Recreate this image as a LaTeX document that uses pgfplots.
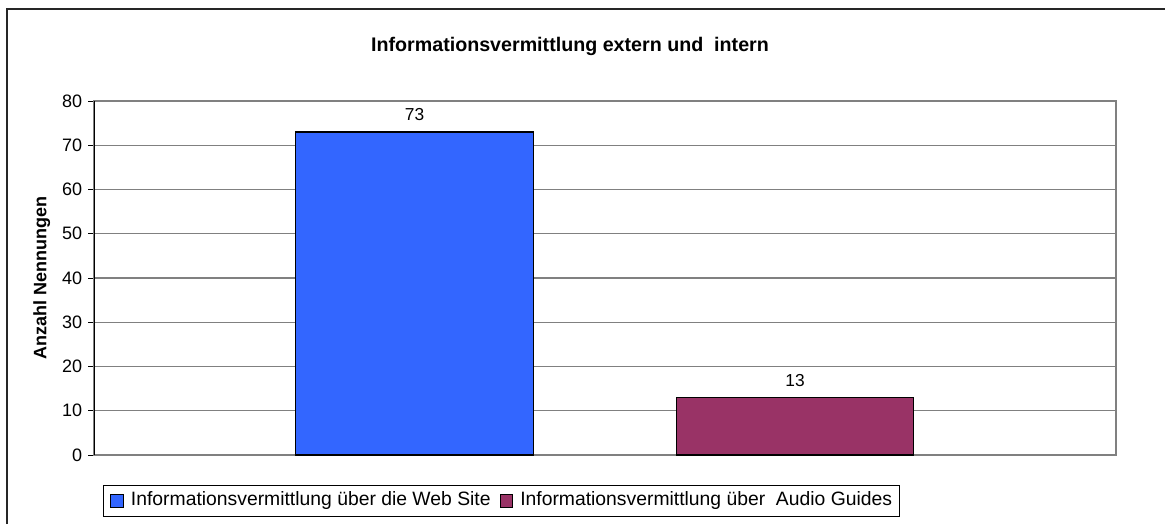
\documentclass[border=0pt]{standalone}
\usepackage{pgfplots}
\pgfplotsset{compat=1.18}
\usepackage{fontspec}
\setmainfont{Liberation Sans}

\definecolor{webblue}{HTML}{3366FF}
\definecolor{audiopurple}{HTML}{993366}
\definecolor{gridgray}{HTML}{808080}

\begin{document}
\begin{tikzpicture}
% page size: 1165 x 524 px at 0.6pt per px
\path[use as bounding box] (0,0) rectangle (699pt,314.4pt);
% chart frame (left and top edges visible)
\draw[line width=1.2pt, black!85] (4.4pt,0) -- (4.4pt,309pt) -- (699pt,309pt);

\node[font=\bfseries\fontsize{11.8}{14}\selectfont] at (342pt,286.8pt)
  {Informationsvermittlung extern und \ intern};
\node[font=\bfseries\fontsize{10.8}{13}\selectfont, rotate=90] at (25pt,147.6pt)
  {Anzahl Nennungen};

\begin{axis}[
    at={(56.4pt,41.4pt)}, anchor=south west,
    scale only axis,
    width=613.2pt, height=212.4pt,
    xmin=0, xmax=1,
    ymin=0, ymax=80,
    ytick={0,10,...,80},
    xtick=\empty,
    ytick pos=left,
    ymajorgrids=true,
    grid style={gridgray, line width=0.8pt},
    axis line style={gridgray, line width=0.8pt},
    tick align=outside,
    major tick length=3.6pt,
    ytick style={black, line width=0.6pt},
    tick label style={font=\fontsize{10.8}{13}\selectfont},
    /pgf/number format/assume math mode=true,
    ybar,
    bar width=0.2324,
    bar shift=0pt,
    nodes near coords,
    every node near coord/.append style={font=\fontsize{10.4}{12}\selectfont, yshift=3pt},
    legend columns=2,
    legend style={at={(0.0088,-0.0847)}, anchor=north west,
                  draw=black, line width=0.6pt,
                  font=\fontsize{11.6}{14}\selectfont,
                  inner xsep=4.2pt, inner ysep=1.8pt,
                  nodes={inner xsep=0pt, inner ysep=2pt, text height=8.5pt, text depth=2.5pt},
                  /tikz/every odd column/.append style={column sep=4.2pt},
                  /tikz/every even column/.append style={column sep=5.5pt}},
    legend image code/.code={
        \draw[#1, line width=0.5pt] (0pt,-3.8pt) rectangle (7.6pt,3.8pt);
    },
]
\addplot[fill=webblue, draw=black, line width=0.7pt] coordinates {(0.3136,73)};
\addplot[fill=audiopurple, draw=black, line width=0.7pt] coordinates {(0.686,13)};
\legend{Informationsvermittlung über die Web Site, Informationsvermittlung über \ Audio Guides}
\draw[black, line width=0.8pt] (rel axis cs:0,0) -- (rel axis cs:0,1);
\end{axis}
\end{tikzpicture}
\end{document}
